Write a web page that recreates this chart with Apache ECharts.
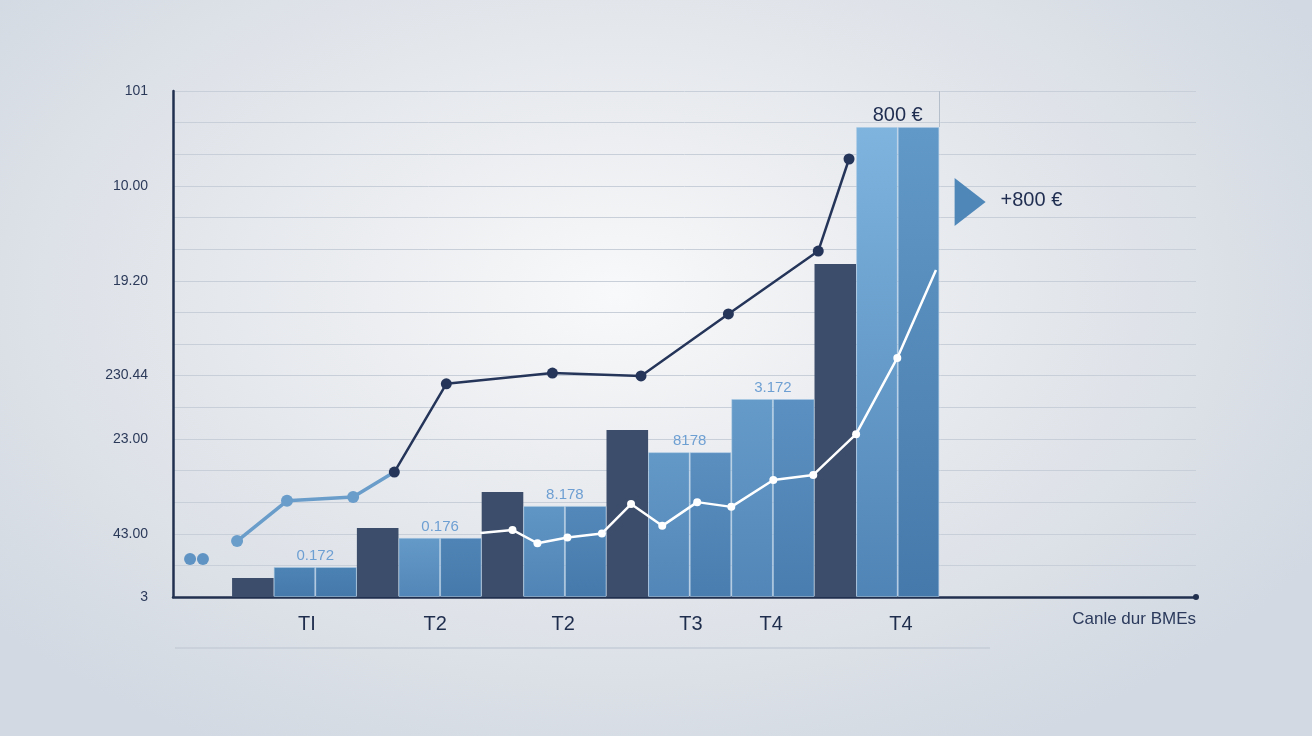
<!DOCTYPE html>
<html>
<head>
<meta charset="utf-8">
<script src="https://cdn.jsdelivr.net/npm/echarts@6/dist/echarts.min.js"></script>
<style>
html,body{margin:0;padding:0;}
body{width:1312px;height:736px;overflow:hidden;
background:radial-gradient(ellipse 62% 70% at 47% 40%, #f8f9fa 0%, #eceef1 30%, #dfe3e9 65%, #d2d9e2 100%);}
#c{width:1312px;height:736px;}
</style>
</head>
<body>
<div id="c"></div>
<script>
// ---- data ----
const yTickValues = [0, 2, 5, 7, 10, 13, 16];
const yTickLabels = ['3', '43.00', '23.00', '230.44', '19.20', '10.00', '101'];

const xTickValues = [1.30, 4.38, 7.46, 10.53, 12.46, 15.58];
const xTickLabels = ['TI', 'T2', 'T2', 'T3', 'T4', 'T4'];
const xAxisName = 'Canle dur BMEs';

const darkBarSlots = [0, 3, 6, 9, 14];
const darkBarValues = [0.60, 2.18, 3.32, 5.28, 10.53];

const bluePairSlots = [1, 4, 7, 10, 12, 15];
const bluePairValues = [0.95, 1.87, 2.88, 4.58, 6.26, 14.86];
const bluePairLabels = ['0.172', '0.176', '8.178', '8178', '3.172', '800 €'];

const darkLine = [[3.40, 3.95], [4.65, 6.74], [7.20, 7.08], [9.33, 6.99], [11.43, 8.95], [13.59, 10.94], [14.33, 13.85]];
const lightLine = [[-0.38, 1.77], [0.82, 3.04], [2.41, 3.16], [3.40, 3.95]];
const whiteLine = [[5.47, 2.02], [6.24, 2.12], [6.84, 1.70], [7.56, 1.88], [8.39, 2.01], [9.09, 2.94], [9.84, 2.25], [10.68, 3.00], [11.50, 2.85], [12.51, 3.70], [13.47, 3.86], [14.50, 5.15], [15.49, 7.56], [16.42, 10.34]];
const looseDots = [[-1.51, 1.20], [-1.20, 1.20]];

const annotationPoint = [17.24, 12.49];
const annotationTextPoint = [17.96, 12.55];
const annotationText = '+800 €';

// ---- styling helpers ----
const FONT = '"Liberation Sans", Arial, sans-serif';
function grad(top, bottom) {
  return { type: 'linear', x: 0, y: 0, x2: 0, y2: 1, colorStops: [{ offset: 0, color: top }, { offset: 1, color: bottom }] };
}
const pairTones = [
  [['#4d84b6', '#4679ab'], ['#4b82b4', '#4578aa']],
  [['#649ac8', '#5286b8'], ['#4f85b6', '#4679ab']],
  [['#5f96c5', '#5184b6'], ['#5389ba', '#4679ab']],
  [['#6399c7', '#5286b8'], ['#5a8fc0', '#4a7daf']],
  [['#659bc9', '#5286b8'], ['#5b91c2', '#4a7daf']],
  [['#7eb4de', '#4f84b6'], ['#6199c8', '#4679ab']]
];

const barData = [];
darkBarSlots.forEach((s, i) => {
  barData.push({ value: [s, darkBarValues[i]], itemStyle: { color: '#3b4d6b', borderWidth: 0 } });
});
bluePairSlots.forEach((s, i) => {
  const big = i === bluePairSlots.length - 1;
  barData.push({
    value: [s, bluePairValues[i]],
    itemStyle: { color: grad(pairTones[i][0][0], pairTones[i][0][1]), borderColor: 'rgba(170,200,228,0.55)', borderWidth: 1 },
    label: {
      show: true, position: 'top', offset: [20.8, 0], distance: big ? 2 : 4,
      formatter: bluePairLabels[i],
      color: big ? '#1f2d50' : '#6e9fd3', fontSize: big ? 20 : 15, fontFamily: FONT
    }
  });
  barData.push({
    value: [s + 1, bluePairValues[i]],
    itemStyle: { color: grad(pairTones[i][1][0], pairTones[i][1][1]), borderColor: 'rgba(170,200,228,0.55)', borderWidth: 1 }
  });
});

function yLabel(v) {
  const i = yTickValues.indexOf(Math.round(v));
  return (i >= 0 && Math.abs(v - Math.round(v)) < 1e-6) ? yTickLabels[i] : '';
}
function xLabel(v) {
  for (let i = 0; i < xTickValues.length; i++) {
    if (Math.abs(xTickValues[i] - v) < 0.005) return xTickLabels[i];
  }
  return '';
}

const chart = echarts.init(document.getElementById('c'), null, { renderer: 'canvas' });
chart.setOption({
  backgroundColor: 'transparent',
  animation: false,
  grid: { left: 173, right: 116, top: 91, bottom: 139, containLabel: false },
  xAxis: {
    type: 'value', min: -1.92, max: 22.67,
    name: xAxisName, nameLocation: 'end', nameGap: 0,
    nameTextStyle: { align: 'right', verticalAlign: 'top', padding: [14, 0, 0, 0], fontSize: 17, color: '#2b3a5c', fontFamily: FONT },
    axisLine: { show: true, onZero: false, lineStyle: { color: '#22304f', width: 2.5 }, symbol: ['none', 'circle'], symbolSize: [6, 6] },
    axisTick: { show: false },
    splitLine: { show: false },
    axisLabel: { customValues: xTickValues, formatter: xLabel, margin: 17, fontSize: 20, color: '#1f2d4d', fontFamily: FONT }
  },
  yAxis: {
    type: 'value', min: 0, max: 16, interval: 1,
    axisLine: { show: true, onZero: false, lineStyle: { color: '#22304f', width: 2.5 } },
    axisTick: { show: false },
    splitLine: { show: true, lineStyle: { color: '#c8cfd9', width: 1 } },
    axisLabel: { formatter: yLabel, margin: 25, fontSize: 14, color: '#2c3a5a', fontFamily: FONT }
  },
  graphic: [{
    type: 'line', shape: { x1: 175, y1: 648, x2: 990, y2: 648 },
    style: { stroke: '#c6cdd7', lineWidth: 1.5 }, silent: true
  }],
  series: [
    {
      type: 'bar', name: 'bars', barWidth: 41.6, data: barData, z: 2,
      markLine: {
        silent: true, symbol: 'none', label: { show: false },
        lineStyle: { color: '#b5bfcb', width: 1, type: 'solid' },
        data: [[{ coord: [16.5, bluePairValues[bluePairValues.length - 1]] }, { coord: [16.5, 16] }]]
      }
    },
    {
      type: 'line', name: 'light', data: lightLine.map((p, i) => i === lightLine.length - 1 ? { value: p, symbol: 'none' } : p),
      lineStyle: { color: '#6a9dca', width: 3.5 }, itemStyle: { color: '#6a9dca', opacity: 1 },
      symbol: 'circle', symbolSize: 12, z: 4
    },
    {
      type: 'line', name: 'dark', data: darkLine,
      lineStyle: { color: '#25355a', width: 2.5 }, itemStyle: { color: '#25355a', opacity: 1 },
      symbol: 'circle', symbolSize: 11, z: 5
    },
    {
      type: 'line', name: 'white', data: whiteLine.map((p, i) => (i === 0 || i === whiteLine.length - 1) ? { value: p, symbol: 'none' } : p),
      lineStyle: { color: '#ffffff', width: 2.5 }, itemStyle: { color: '#ffffff', opacity: 1 },
      symbol: 'circle', symbolSize: 8, z: 5
    },
    {
      type: 'scatter', name: 'dots', data: looseDots, symbolSize: 12,
      itemStyle: { color: '#5f93c3', opacity: 1 }, z: 4
    },
    {
      type: 'scatter', name: 'arrow', data: [annotationPoint], symbol: 'triangle',
      symbolSize: [48, 31], symbolRotate: -90, itemStyle: { color: '#4f87b9', opacity: 1 }, z: 4
    },
    {
      type: 'scatter', name: 'arrowText', data: [annotationTextPoint], symbolSize: 1,
      itemStyle: { color: 'rgba(0,0,0,0)', opacity: 1 }, clip: false,
      label: { show: true, position: 'right', distance: 0, formatter: annotationText, fontSize: 20, color: '#1f2d50', fontFamily: FONT }, z: 4
    }
  ]
});
</script>
</body>
</html>
